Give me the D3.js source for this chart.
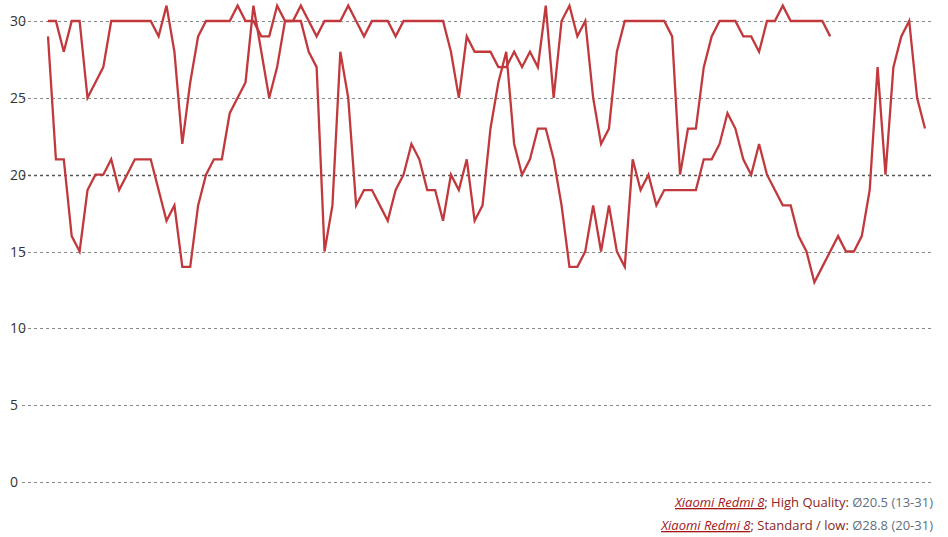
<!DOCTYPE html>
<html>
<head>
<meta charset="utf-8">
<script src="https://cdn.jsdelivr.net/npm/d3@7"></script>
<style>
  body { margin: 0; background: #fff; }
  text { font-family: "Open Sans", "Noto Sans", sans-serif; }
</style>
</head>
<body>
<div id="chart"></div>
<script>
// fps readings
var highQuality = [29,21,21,16,15,19,20,20,21,19,20,21,21,21,19,17,18,14,14,18,
  20,21,21,24,25,26,31,28,25,27,30,30,31,30,29,30,30,30,31,30,
  29,30,30,30,29,30,30,30,30,30,30,28,25,29,28,28,28,27,27,28,
  27,28,27,31,25,30,31,29,30,25,22,23,28,30,30,30,30,30,30,29,
  20,23,23,27,29,30,30,30,29,29,28,30,30,31,30,30,30,30,30,29];
var standardLow = [30,30,28,30,30,25,26,27,30,30,30,30,30,30,29,31,28,22,26,29,
  30,30,30,30,31,30,30,29,29,31,30,30,30,28,27,15,18,28,25,18,
  19,19,18,17,19,20,22,21,19,19,17,20,19,21,17,18,23,26,28,22,
  20,21,23,23,21,18,14,14,15,18,15,18,15,14,21,19,20,18,19,19,
  19,19,19,21,21,22,24,23,21,20,22,20,19,18,18,16,15,13,14,15,
  16,15,15,16,19,27,20,27,29,30,25,23];
// the longer run is the High Quality one (13-31), shorter is Standard (20-31)
var series = [standardLow, highQuality];
var yTicks = [0, 5, 10, 15, 20, 25, 30];
var legendLabels = [
  ["Xiaomi Redmi 8", "; High Quality: ", "Ø20.5 (13-31)"],
  ["Xiaomi Redmi 8", "; Standard / low: ", "Ø28.8 (20-31)"]
];

var width = 948, height = 537;
var margin = { top: 21, right: 23, bottom: 55, left: 48 };

var svg = d3.select("#chart").append("svg")
  .attr("width", width).attr("height", height);

var maxLen = d3.max(series, function(s) { return s.length; });
var x = d3.scaleLinear().domain([0, maxLen - 1]).range([margin.left, width - margin.right]);
var y = d3.scaleLinear().domain([0, 30]).range([height - margin.bottom, margin.top]);

// grid
svg.append("g").selectAll("line").data(yTicks).enter().append("line")
  .attr("x1", 22).attr("x2", 933)
  .attr("y1", function(d) { return Math.round(y(d)) + 0.5; })
  .attr("y2", function(d) { return Math.round(y(d)) + 0.5; })
  .attr("stroke", function(d) { return d == 20 ? "#555" : "#888"; })
  .attr("stroke-width", function(d) { return d == 20 ? 1.3 : 1; })
  .attr("stroke-dasharray", "3,3");

svg.append("g").selectAll("text").data(yTicks).enter().append("text")
  .attr("x", 10).attr("y", function(d) { return y(d) + 5; })
  .attr("font-size", 14).attr("fill", "#333")
  .text(function(d) { return d; });

var line = d3.line()
  .x(function(d, i) { return x(i); })
  .y(function(d) { return y(d); });

series.forEach(function(s) {
  svg.append("path").datum(s)
    .attr("d", line)
    .attr("fill", "none")
    .attr("stroke", "#c1393c")
    .attr("stroke-width", 2.3)
    .attr("stroke-linejoin", "miter");
});

// legend
legendLabels.forEach(function(l, k) {
  var t = svg.append("text")
    .attr("x", 933).attr("y", 507 + k * 23)
    .attr("text-anchor", "end").attr("font-size", 13);
  t.append("tspan").text(l[0]).attr("fill", "#a3161a")
    .attr("font-style", "italic").attr("text-decoration", "underline");
  t.append("tspan").text(l[1]).attr("fill", "#8b2424");
  t.append("tspan").text(l[2]).attr("fill", "#5f6f80");
});
</script>
</body>
</html>
